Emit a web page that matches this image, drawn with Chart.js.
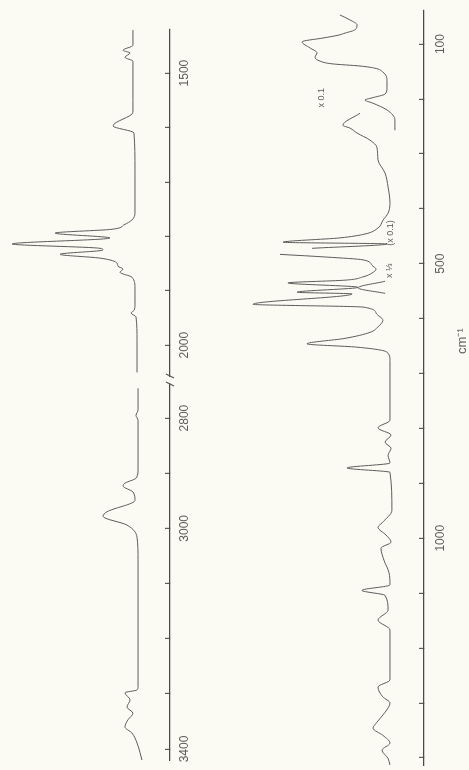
<!DOCTYPE html>
<html>
<head>
<meta charset="utf-8">
<title>Spectrum</title>
<script src="https://cdn.jsdelivr.net/npm/chart.js@4.4.0/dist/chart.umd.min.js"></script>
<style>
  html, body { margin: 0; padding: 0; width: 469px; height: 770px; overflow: hidden; background: #fbfbf3; }
  /* the whole sheet is drawn landscape and turned a quarter turn, like the scanned page */
  #sheet { position: absolute; left: 0; top: 0; width: 770px; height: 469px;
           transform-origin: 0 0; transform: translate(0, 770px) rotate(-90deg); }
  canvas { display: block; }
</style>
</head>
<body>
<div id="sheet">
  <canvas id="upperChart" width="770" height="210"></canvas>
  <canvas id="lowerChart" width="770" height="259"></canvas>
</div>
<script>
// upper spectrum, 1400-2060 cm-1 part
const upperLowWn = [1421, 1449, 1458, 1463, 1471, 1478, 1550, 1572, 1597, 1610, 1678, 1757, 1770, 1779, 1787,
  1794, 1803, 1814, 1822, 1825, 1833, 1840, 1849, 1855, 1860, 1866, 1875, 1895, 1926, 1936, 1941, 1948, 1991, 2050];
const upperLowI = [21.8, 21.8, 27.6, 23.5, 26.5, 21.8, 21.8, 21.8, 33.5, 21.2, 20.6, 20.6, 22.4, 27.1, 34.1,
  67.6, 35.3, 92.9, 41.2, 39.4, 64.7, 41.2, 31.2, 30.6, 27.6, 29.4, 22.4, 20.6, 20.6, 21.2, 22.9, 20.0, 19.4, 19.4];

// upper spectrum, 2740-3420 cm-1 part
const upperHighWn = [2746, 2785, 2795, 2804, 2894, 2909, 2918, 2923, 2934, 2949, 2970, 2978, 2994, 3016, 3057,
  3288, 3293, 3298, 3311, 3324, 3335, 3347, 3360, 3371, 3389, 3407, 3420];
const upperHighI = [18.8, 18.8, 20.0, 18.8, 18.8, 20.0, 26.5, 27.6, 21.8, 20.6, 37.1, 39.4, 25.3, 19.4, 18.8,
  18.8, 19.4, 26.5, 23.5, 25.3, 21.8, 24.7, 26.5, 22.4, 19.4, 17.6, 16.5];

// lower spectrum, x 0.1 piece at the low end
const lowerTopWn = [47, 56, 65, 74, 80, 84, 89, 96, 107, 116, 124, 131, 136, 140, 144, 151, 166, 180, 191, 198,
  202, 207, 220, 238, 257];
const lowerTopI = [39.3, 34.6, 31.3, 32.2, 36.9, 40.2, 47.2, 57.0, 53.3, 50.0, 50.9, 48.6, 43.0, 29.9, 22.9,
  19.2, 17.3, 17.3, 18.2, 24.3, 27.6, 24.3, 17.3, 13.6, 13.6];

// lower spectrum, main trace (null = pen lifted)
const lowerMainWn = [226, 248, 253, 262, 275, 288, 311, 335, 360, 390, 408, 421, 435, 446, 453, 461, 464, 472,
  478, 483, 488, 493, 503, 510, 517, 524, 530, 535, 543, 552, 555, 574, 579, 590, 603, 615, 625, 636, 646, 652,
  661, 676, 785, 799, 812, 825, 836, 849, 863, 872, 880, 949, 972, 980, 994, 1007, 1018, 1040, 1062, 1085, 1095,
  1104, 1131, 1149, 1167, 1258, 1271, 1289, 1300, 1317, 1335, 1346, 1359, 1373, 1386, 1401, 1413];
const lowerMainI = [29.9, 37.9, 34.6, 31.3, 25.2, 22.0, 21.5, 18.2, 16.8, 15.9, 16.8, 19.2, 21.5, 27.6, 39.3,
  65.9, 17.3, 52.3, null, 67.3, 45.3, 28.5, 24.3, 22.4, 24.3, 28.5, 36.9, 63.6, 30.8, 59.3, 33.6, 79.9, 28.5,
  22.4, 19.2, 21.5, 25.2, 36.9, 54.7, 31.3, 17.3, 15.9, 15.9, 21.5, 15.4, 18.2, 15.4, 16.8, 15.9, 36.0, 15.9,
  15.0, 19.6, 21.5, 17.8, 15.4, 20.1, 18.7, 16.4, 15.9, 29.0, 18.2, 16.8, 21.5, 15.9, 15.9, 21.5, 19.2, 15.9,
  18.2, 22.0, 23.8, 19.2, 15.9, 19.6, 16.8, 15.9];

// lower spectrum, x 1/3 piece
const lowerThirdWn = [532, 544, 554];
const lowerThirdI = [18.2, 30.8, 18.2];

// axis ticks and which of them carry a number
const upperTicks = [1500, 1600, 1700, 1800, 1900, 2000, 2800, 2900, 3000, 3100, 3200, 3300, 3400];
const upperTickLabels = [1500, 2000, 2800, 3000, 3400];
const lowerTicks = [100, 200, 300, 400, 500, 600, 700, 800, 900, 1000, 1100, 1200, 1300, 1400];
const lowerTickLabels = [100, 500, 1000];

const paper = '#fbfbf3';
const ink = '#5c5c5c';
const font = { family: '"Liberation Sans", Arial, sans-serif', size: 12 };

const pts = (xs, ys) => xs.map((x, i) => ({ x, y: ys[i] }));

function trace(xs, ys, axisId) {
  return {
    data: pts(xs, ys),
    xAxisID: axisId,
    borderColor: ink,
    borderWidth: 1,
    pointRadius: 0,
    cubicInterpolationMode: 'monotone',
    spanGaps: false
  };
}

function wnAxis(min, max, ticks, labels, pad, extra) {
  return Object.assign({
    type: 'linear',
    position: 'bottom',
    reverse: true,
    min,
    max,
    afterBuildTicks: s => {
      s.ticks = ticks.filter(v => v >= s.min && v <= s.max).map(v => ({ value: v }));
    },
    ticks: {
      autoSkip: false,
      maxRotation: 0,
      color: ink,
      font,
      padding: pad,
      callback: v => (labels.includes(v) ? String(v) : '')
    },
    grid: { drawOnChartArea: false, drawTicks: true, tickLength: -5, color: ink, lineWidth: 1.2 },
    border: { display: true, color: '#4a4a4a', width: 1.3 }
  }, extra);
}

// "//" mark where the upper wavenumber scale is broken
const breakMarks = {
  id: 'breakMarks',
  afterDraw(chart) {
    const { ctx, chartArea } = chart;
    const x = chart.scales.xHigh.right;
    const y = chartArea.bottom;
    ctx.save();
    ctx.fillStyle = paper;
    ctx.fillRect(x - 3, y - 2, 6, 4);
    ctx.strokeStyle = ink;
    ctx.lineWidth = 1.2;
    ctx.beginPath();
    ctx.moveTo(x - 6, y + 4); ctx.lineTo(x - 2, y - 4);
    ctx.moveTo(x + 2, y + 4); ctx.lineTo(x + 6, y - 4);
    ctx.stroke();
    ctx.restore();
  }
};

// gain notes and the unit
const notes = {
  id: 'notes',
  afterDraw(chart) {
    const { ctx } = chart;
    const xs = chart.scales.x;
    const ys = chart.scales.y;
    ctx.save();
    ctx.fillStyle = ink;
    ctx.textAlign = 'center';
    ctx.textBaseline = 'middle';
    ctx.font = '9px "Liberation Sans", Arial, sans-serif';
    ctx.fillText('x 0.1', xs.getPixelForValue(198), ys.getPixelForValue(47.7));
    ctx.fillText('(x 0.1)', xs.getPixelForValue(444), ys.getPixelForValue(15.5));
    ctx.fillText('x \u2153', xs.getPixelForValue(513), ys.getPixelForValue(16));
    ctx.font = '13px "Liberation Sans", Arial, sans-serif';
    ctx.fillText('cm\u207B\u00B9', xs.getPixelForValue(641), xs.top + 38);
    ctx.restore();
  }
};

document.addEventListener('DOMContentLoaded', () => {
  const common = {
    responsive: false,
    animation: false,
    events: [],
    plugins: { legend: { display: false }, tooltip: { enabled: false } }
  };

  new Chart(document.getElementById('upperChart'), {
    type: 'line',
    data: {
      datasets: [
        trace(upperHighWn, upperHighI, 'xHigh'),
        trace(upperLowWn, upperLowI, 'xLow')
      ]
    },
    options: Object.assign({}, common, {
      layout: { padding: { left: 10, right: 29, top: 0, bottom: 0 } },
      scales: {
        xHigh: wnAxis(2731, 3420, upperTicks, upperTickLabels, 12,
          { stack: 'wn', stackWeight: 380, afterFit: s => { s.height = 40; } }),
        xLow: wnAxis(1419, 2064, upperTicks, upperTickLabels, 12,
          { stack: 'wn', stackWeight: 351, afterFit: s => { s.height = 40; } }),
        y: { display: false, min: 0, max: 100 }
      }
    }),
    plugins: [breakMarks]
  });

  new Chart(document.getElementById('lowerChart'), {
    type: 'line',
    data: {
      datasets: [
        trace(lowerTopWn, lowerTopI, 'x'),
        trace(lowerMainWn, lowerMainI, 'x'),
        trace(lowerThirdWn, lowerThirdI, 'x')
      ]
    },
    options: Object.assign({}, common, {
      layout: { padding: { left: 5, right: 10, top: 0, bottom: 0 } },
      scales: {
        x: wnAxis(38, 1413, lowerTicks, lowerTickLabels, 14,
          { afterFit: s => { s.height = 45; } }),
        y: { display: false, min: 0, max: 100 }
      }
    }),
    plugins: [notes]
  });
});
</script>
</body>
</html>
